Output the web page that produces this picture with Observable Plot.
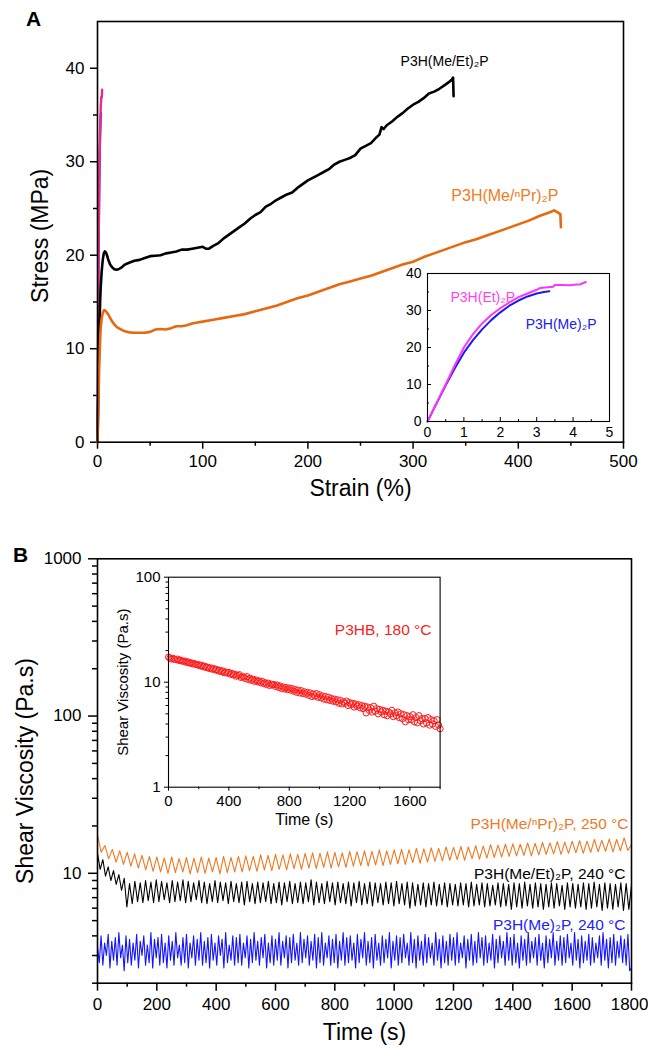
<!DOCTYPE html>
<html><head><meta charset="utf-8">
<script src="https://cdn.jsdelivr.net/npm/d3@7"></script>
<script src="https://cdn.jsdelivr.net/npm/@observablehq/plot@0.6"></script>
<style>
body{margin:0;background:#fff;}
#wrap{position:relative;width:648px;height:1045px;overflow:hidden;background:#fff;}
#wrap svg{position:absolute;overflow:visible;}
</style></head><body><div id="wrap"></div>
<script>
// ---------------- Panel A : stress-strain ----------------
const strainTicks = [0, 100, 200, 300, 400, 500];
const strainMinor = [50, 150, 250, 350, 450];
const stressTicks = [0, 10, 20, 30, 40];
const stressMinor = [5, 15, 25, 35];

const meEtStrain = [0,0.5,1,1.5,2,2.5,3,4,5,6,7,8,9,10,12,14,16,18,20,23,26,30,35,40,45,50,55,60,65,70,75,80,85,90,95,100,103,106,110,115,120,125,130,135,140,145,150,155,160,165,170,175,180,185,190,195,200,205,210,215,220,225,230,235,240,245,250,255,260,265,268,270,272,275,280,285,290,295,300,305,310,315,320,325,330,335,337,338,338.5];
const meEtStress = [0,3,7,10.5,13,15,16.5,18.3,19.5,20.2,20.4,20.3,20.0,19.6,19.0,18.7,18.5,18.45,18.5,18.7,19.0,19.2,19.4,19.5,19.7,19.9,19.95,20.0,20.2,20.3,20.4,20.6,20.6,20.7,20.8,20.9,20.7,20.7,21.0,21.3,21.8,22.2,22.6,23.0,23.4,23.9,24.3,24.6,25.2,25.5,25.9,26.2,26.5,26.7,27.2,27.6,28.0,28.3,28.6,28.9,29.2,29.7,30.0,30.2,30.4,30.7,31.4,31.7,32.0,32.6,32.9,33.7,33.5,33.9,34.3,34.8,35.2,35.7,36.1,36.4,36.8,37.3,37.5,37.8,38.2,38.6,38.8,39.0,37.0];

const meNPrStrain = [0,0.5,1,1.5,2,2.5,3,4,5,6,7,8,10,12,14,16,18,20,25,30,35,40,45,50,55,60,65,70,75,80,85,90,95,100,110,120,130,140,150,160,170,180,190,200,210,220,230,240,250,260,270,280,290,300,310,320,330,340,350,360,370,380,390,400,410,420,430,434,437,440,440.5];
const meNPrStress = [0,2.5,5,7.5,9.5,11,12.2,13.3,13.8,14.1,14.1,14.0,13.7,13.3,12.9,12.6,12.35,12.2,11.9,11.75,11.7,11.7,11.7,11.8,12.05,12.1,12.05,12.2,12.4,12.4,12.5,12.7,12.8,12.9,13.1,13.3,13.5,13.7,14.0,14.3,14.6,15.0,15.4,15.7,16.1,16.5,16.9,17.2,17.5,17.8,18.2,18.6,19.0,19.3,19.8,20.2,20.6,21.0,21.4,21.7,22.1,22.5,22.9,23.3,23.7,24.2,24.6,24.8,24.6,24.4,23.0];

const etStrain = [0,0.25,0.5,0.75,1.0,1.25,1.5,1.75,2.0,2.25,2.5,2.75,3.0,3.1,3.3,3.45,3.5,3.7,3.9,4.1,4.2,4.3,4.35];
const etStress = [0,5.0,10.0,15.2,20.0,23.6,26.5,28.8,30.6,32.2,33.6,34.6,35.6,36.1,36.3,36.4,36.9,36.9,36.8,37.0,37.1,37.5,37.7];
const meStrain = [0,0.25,0.5,0.75,1.0,1.25,1.5,1.75,2.0,2.25,2.5,2.75,3.0,3.2,3.35];
const meStress = [0,4.9,9.8,14.4,18.6,22.0,24.9,27.4,29.5,31.3,32.7,33.8,34.6,35.0,35.2];

const insetStrainTicks = [0, 1, 2, 3, 4, 5];
const insetStrainMinor = [0.5, 1.5, 2.5, 3.5, 4.5];
const insetStressTicks = [0, 10, 20, 30, 40];
const insetStressMinor = [5, 15, 25, 35];

// ---------------- Panel B : shear viscosity ----------------
const timeTicks = [0, 200, 400, 600, 800, 1000, 1200, 1400, 1600];
const timeLastTick = [1800];
const timeMinor = [100, 300, 500, 700, 900, 1100, 1300, 1500, 1700];
const viscTicks = [10, 100, 1000];
const viscMinor = [2,3,4,5,6,7,8,9,20,30,40,50,60,70,80,90,200,300,400,500,600,700,800,900];
const runDuration = 1800; // s, each run sampled evenly

const meNPrVisc = [17.5,13.6,15.0,12.4,14.2,11.8,13.9,11.4,13.6,11.1,13.3,10.8,13.0,10.5,12.8,10.3,12.7,10.2,12.5,10.0,12.7,10.1,12.4,10.2,12.6,9.9,12.5,10.1,12.7,10.0,12.5,10.2,12.6,9.9,12.8,10.1,12.6,10.2,12.8,10.2,
12.9,10.4,12.8,10.3,13.1,10.5,13.0,10.4,13.2,10.6,13.1,10.5,13.3,10.7,13.2,10.6,13.4,10.8,13.5,10.7,13.4,10.9,13.7,10.8,13.6,11.0,13.5,10.9,13.8,11.1,13.7,11.2,13.9,11.1,13.8,11.3,14.1,11.2,13.9,11.4,
14.1,11.5,14.2,11.4,14.1,11.7,14.4,11.6,14.3,11.8,14.5,11.9,14.4,12.0,14.7,12.1,14.6,12.2,14.8,12.1,14.7,12.4,15.0,12.3,14.9,12.5,15.2,12.6,15.1,12.7,15.3,12.8,15.4,12.9,15.3,13.0,15.6,12.9,15.5,13.1,
15.7,13.2,15.6,13.3,15.9,13.2,15.8,13.4,16.0,13.5,16.1,13.4,16.0,13.6,16.4,13.7,16.2,13.8,16.5,13.7,16.4,13.9,16.8,14.0,15.2];

const meEtVisc = [13.4,10.6,12.2,9.6,11.0,9.0,10.4,8.5,9.8,7.8,9.3,6.1,
8.6,6.4,8.9,6.6,8.7,6.5,9.0,6.7,8.8,6.5,9.1,6.6,8.9,6.8,8.7,6.5,9.0,6.6,8.8,6.7,9.1,6.5,8.9,6.6,8.7,6.8,9.0,6.5,
8.8,6.4,8.6,6.6,9.0,6.5,8.8,6.7,8.7,6.4,8.9,6.6,8.6,6.5,8.8,6.3,8.9,6.6,8.6,6.4,
8.8,6.5,8.7,6.6,8.9,6.4,8.6,6.5,8.8,6.3,8.7,6.6,8.9,6.4,8.6,6.5,8.8,6.4,8.7,6.6,
9.1,6.3,8.8,6.5,8.6,6.4,8.9,6.6,8.7,6.3,8.8,6.5,8.6,6.4,8.8,6.2,8.7,6.5,8.9,6.3,
8.6,6.4,8.8,6.2,8.7,6.5,8.6,6.3,8.8,6.4,8.7,6.2,8.9,6.4,8.6,6.3,8.8,6.0,8.7,6.2,
8.5,6.3,8.7,6.1,8.6,6.3,8.8,6.2,8.5,6.3,8.7,6.1,8.6,6.3,8.5,6.2,8.7,6.3,8.6,6.1,
8.8,6.2,8.5,6.3,8.7,6.1,8.6,6.2,8.4,6.3,8.7,6.1,8.6,6.2,8.5,5.9,8.7,6.1,8.6,6.0,
8.8,6.2,8.5,6.0,8.7,6.1,8.6,5.9,8.5,6.1,8.7,6.0,8.6,6.2,8.4,5.9,8.7,6.1,8.6,6.0,
8.5,6.1,8.7,5.9,8.6,6.0,8.8,6.1,8.5,5.8,8.7,6.0,8.6,5.9,8.5,6.1,8.7,5.8,8.6,5.9,
8.4];

const meVisc = [3.4,2.7,4.0,2.6,3.6,3.0,4.1,2.5,3.7,2.8,3.9,2.6,4.2,2.9,3.5,2.4,4.0,2.7,3.8,2.6,
3.6,2.8,4.1,2.5,3.7,3.0,4.0,2.6,3.5,2.7,4.2,2.5,3.8,2.9,3.9,2.6,4.1,2.7,3.6,2.5,
4.0,2.8,3.7,2.6,4.2,2.9,3.5,2.6,3.9,2.7,4.1,2.5,3.6,2.9,4.0,2.6,3.8,2.8,4.2,2.6,
3.7,2.7,3.9,2.5,4.1,2.8,3.6,2.6,4.0,3.0,3.8,2.5,4.2,2.7,3.5,2.8,4.0,2.6,3.9,2.7,
4.1,2.6,3.6,2.9,4.0,2.5,3.8,2.7,4.2,2.8,3.7,2.6,3.9,2.9,4.1,2.5,3.6,2.7,4.0,2.6,
3.8,2.8,4.2,2.6,3.7,2.9,4.0,2.5,3.9,2.7,4.1,2.8,3.6,2.6,4.2,2.7,3.8,2.9,4.0,2.6,
3.7,2.8,4.1,2.5,3.9,2.7,4.2,2.6,3.6,2.9,4.0,2.6,3.8,2.7,4.1,2.5,3.7,2.8,4.2,2.6,
3.9,2.7,4.0,2.8,3.6,2.5,4.1,2.7,3.8,2.9,4.2,2.6,3.7,2.7,3.9,2.5,4.1,2.8,3.6,2.6,
4.0,2.7,3.8,2.9,4.2,2.5,3.7,2.8,4.0,2.6,3.9,2.7,4.1,2.9,3.6,2.6,4.2,2.7,3.8,2.5,
4.0,2.8,3.7,2.6,4.1,2.7,3.9,2.9,3.6,2.6,4.2,2.8,3.8,2.5,4.0,2.7,3.7,2.6,4.1,2.8,
3.9,2.6,4.2,2.7,3.6,2.9,4.0,2.5,3.8,2.8,4.1,2.6,3.7,2.7,4.2,2.9,3.9,2.6,4.0,2.7,
3.6,2.8,4.1,2.5,3.8,2.7,4.0,2.9,3.7,2.6,4.2,2.8,3.9,2.6,4.1,2.7,3.6,2.5,4.0,2.8,
3.8,2.6,4.2,2.7,3.7,2.9,3.9,2.6,4.1,2.8,3.6,2.5,4.0,2.7,3.8,2.9,4.2,2.6,3.7,2.8,
4.0,2.6,3.9,2.7,4.1,2.9,3.6,2.6,4.2,2.8,3.8,2.5,4.0,2.7,3.7,2.8,4.1,2.6,3.9,2.7,
3.6,2.9,4.0,2.6,4.2,2.8,3.8,2.5,3.9,2.7,4.1,2.6,3.7,2.9,4.0,2.7,3.8,2.6,4.1,2.4,
2.5];

const p3hbVisc = [17.3,17.0,16.6,16.9,16.5,16.4,16.6,16.1,16.2,15.9,
15.8,15.9,15.4,15.6,15.2,15.3,14.9,15.1,14.8,14.6,
14.7,14.3,14.5,14.0,14.2,13.8,13.9,13.5,13.7,13.3,
13.5,13.1,13.2,12.8,13.0,12.6,12.8,12.3,12.5,12.2,
12.4,11.9,12.1,11.7,11.9,11.4,11.6,11.8,11.1,11.3,
11.2,10.8,11.3,10.6,10.9,10.4,10.7,10.2,10.5,10.1,
10.3,9.9,10.2,9.7,9.9,9.5,9.8,9.3,9.6,9.4,
9.5,9.1,9.4,8.9,9.2,8.7,9.0,8.6,8.9,8.5,
8.8,8.4,8.7,8.2,8.5,8.0,8.4,7.9,8.3,7.8,
8.1,7.7,8.0,7.5,7.9,7.3,7.7,7.4,7.8,7.2,
7.6,7.1,7.4,6.9,7.3,6.8,7.2,6.7,7.0,6.6,
6.9,6.5,6.8,6.3,6.7,6.2,6.5,6.3,6.6,6.0,
6.4,6.1,6.3,5.8,6.2,5.9,6.1,5.7,6.0,5.6,
5.9,5.1,5.8,5.4,5.7,5.2,5.9,5.3,5.6,5.0,
5.5,5.2,5.4,4.9,5.3,4.8,5.2,5.0,5.4,4.7,
5.1,4.8,5.2,4.6,5.0,4.5,4.9,4.2,4.8,4.4,
4.7,4.4,4.9,4.2,4.6,4.1,4.8,4.3,4.5,4.0,
4.5,4.1,4.6,3.9,4.4,4.0,4.3,3.8,4.4,3.9,
3.6];

const insetTimeTicks = [0, 400, 800, 1200, 1600];
const insetTimeMinor = [200, 600, 1000, 1400, 1800];
const insetViscTicks = [1, 10, 100];
const insetViscMinor = [2,3,4,5,6,7,8,9,20,30,40,50,60,70,80,90];

// ---------------- helpers ----------------
const FONT = "'Liberation Sans', Arial, Helvetica, sans-serif";
const pairs = (xs, ys) => xs.map((x, i) => ({x, y: ys[i]}));
const evenly = (ys, duration) => ys.map((y, i) => ({x: i * duration / (ys.length - 1), y}));
const blank = () => "";
const wrap = document.getElementById("wrap");
function place(svg, left, top) {
  svg.style.left = left + "px";
  svg.style.top = top + "px";
  wrap.appendChild(svg);
}
const baseStyle = {fontFamily: FONT, color: "#000", background: "transparent", overflow: "visible"};

// ---------------- Panel A main ----------------
const plotA = Plot.plot({
  width: 648, height: 520,
  marginLeft: 97, marginRight: 25, marginTop: 21, marginBottom: 78.3,
  style: baseStyle,
  x: {domain: [0, 500]},
  y: {domain: [0, 45]},
  marks: [
    Plot.axisX(strainTicks, {tickSize: 7, tickPadding: 6, strokeWidth: 1.5, fontSize: 17, label: null, tickFormat: d => String(d)}),
    Plot.axisX(strainMinor, {tickSize: 4, strokeWidth: 1.5, label: null, tickFormat: blank}),
    Plot.axisY(stressTicks, {tickSize: 7, tickPadding: 6, strokeWidth: 1.5, fontSize: 17, label: null, tickFormat: d => String(d)}),
    Plot.axisY(stressMinor, {tickSize: 4, strokeWidth: 1.5, label: null, tickFormat: blank}),
    Plot.line(pairs(meStrain, meStress), {x: "x", y: "y", stroke: "#1a1aff", strokeWidth: 2.2}),
    Plot.line(pairs(etStrain, etStress), {x: "x", y: "y", stroke: "#f0288c", strokeWidth: 2.4}),
    Plot.line(pairs(meEtStrain, meEtStress), {x: "x", y: "y", stroke: "#000", strokeWidth: 2.6}),
    Plot.line(pairs(meNPrStrain, meNPrStress), {x: "x", y: "y", stroke: "#e8680e", strokeWidth: 2.6}),
    Plot.frame({stroke: "#000", strokeWidth: 1.6}),
    Plot.text(["P3H(Me/Et)₂P"], {text: d => d, frameAnchor: "top-right", textAnchor: "end", lineAnchor: "middle", dx: -135, dy: 40, fontSize: 14, fill: "#000"}),
    Plot.text(["P3H(Me/ⁿPr)₂P"], {text: d => d, frameAnchor: "top-right", textAnchor: "end", lineAnchor: "middle", dx: -65, dy: 174, fontSize: 16, fill: "#f07c24"}),
    Plot.text(["Strain (%)"], {text: d => d, frameAnchor: "bottom", textAnchor: "middle", lineAnchor: "middle", dy: 46, fontSize: 23, fill: "#000"}),
    Plot.text(["Stress (MPa)"], {text: d => d, frameAnchor: "left", textAnchor: "middle", lineAnchor: "middle", rotate: -90, dx: -57, dy: 4, fontSize: 23, fill: "#000"}),
    Plot.text(["A"], {text: d => d, frameAnchor: "top-left", textAnchor: "middle", lineAnchor: "middle", dx: -64, dy: -2, fontSize: 21, fontWeight: "bold", fill: "#000"})
  ]
});
place(plotA, 0, 0);

// ---------------- Panel A inset ----------------
const insetA = Plot.plot({
  width: 220, height: 182,
  marginLeft: 27, marginRight: 11, marginTop: 11, marginBottom: 23,
  style: baseStyle,
  x: {domain: [0, 5]},
  y: {domain: [0, 40]},
  marks: [
    Plot.axisX(insetStrainTicks, {tickSize: -4, tickPadding: 10, strokeWidth: 1, fontSize: 14, label: null, tickFormat: d => String(d)}),
    Plot.axisX(insetStrainMinor, {tickSize: -2, strokeWidth: 1, label: null, tickFormat: blank}),
    Plot.axisY(insetStressTicks, {tickSize: -4, tickPadding: 10, strokeWidth: 1, fontSize: 14, label: null, tickFormat: d => String(d)}),
    Plot.axisY(insetStressMinor, {tickSize: -2, strokeWidth: 1, label: null, tickFormat: blank}),
    Plot.line(pairs(meStrain, meStress), {x: "x", y: "y", stroke: "#1a1aee", strokeWidth: 2}),
    Plot.line(pairs(etStrain, etStress), {x: "x", y: "y", stroke: "#ff33ff", strokeWidth: 2}),
    Plot.frame({stroke: "#000", strokeWidth: 1.1}),
    Plot.text(["P3H(Et)₂P"], {text: d => d, frameAnchor: "top-left", textAnchor: "start", lineAnchor: "middle", dx: 23, dy: 24, fontSize: 14, fill: "#ff44ee"}),
    Plot.text(["P3H(Me)₂P"], {text: d => d, frameAnchor: "top-right", textAnchor: "end", lineAnchor: "middle", dx: -13, dy: 51, fontSize: 14, fill: "#2020ee"})
  ]
});
place(insetA, 400, 262);

// ---------------- Panel B main ----------------
const intFmt = d => String(d);
const plotB = Plot.plot({
  width: 648, height: 525,
  marginLeft: 97, marginRight: 17, marginTop: 38.3, marginBottom: 62.3,
  style: baseStyle,
  x: {domain: [0, 1800]},
  y: {type: "log", domain: [2, 1000]},
  marks: [
    Plot.axisX(timeTicks, {tickSize: 8, tickPadding: 7, strokeWidth: 1.5, fontSize: 17, label: null, tickFormat: intFmt}),
    Plot.axisX(timeLastTick, {tickSize: 8, strokeWidth: 1.5, label: null, tickFormat: blank}),
    Plot.axisX(timeLastTick, {tickSize: 0, tickPadding: 15, fontSize: 17, label: null, tickFormat: intFmt, textAnchor: "end", dx: 17}),
    Plot.axisX(timeMinor, {tickSize: 4, strokeWidth: 1.5, label: null, tickFormat: blank}),
    Plot.axisY(viscTicks, {tickSize: 9, tickPadding: 7, strokeWidth: 1.5, fontSize: 17, label: null, tickFormat: intFmt}),
    Plot.axisY(viscMinor, {tickSize: 5, strokeWidth: 1.5, label: null, tickFormat: blank}),
    Plot.line(evenly(meVisc, runDuration), {x: "x", y: "y", stroke: "#1414ff", strokeWidth: 1.1}),
    Plot.line(evenly(meEtVisc, runDuration), {x: "x", y: "y", stroke: "#000", strokeWidth: 1.1}),
    Plot.line(evenly(meNPrVisc, runDuration), {x: "x", y: "y", stroke: "#f07820", strokeWidth: 1.1}),
    Plot.frame({stroke: "#000", strokeWidth: 1.6}),
    Plot.text(["P3H(Me/ⁿPr)₂P, 250 °C"], {text: d => d, frameAnchor: "top-right", textAnchor: "end", lineAnchor: "middle", dx: -3, dy: 265, fontSize: 15.5, fill: "#ee7a26"}),
    Plot.text(["P3H(Me/Et)₂P, 240 °C"], {text: d => d, frameAnchor: "top-right", textAnchor: "end", lineAnchor: "middle", dx: -6, dy: 315, fontSize: 15.5, fill: "#000"}),
    Plot.text(["P3H(Me)₂P, 240 °C"], {text: d => d, frameAnchor: "top-right", textAnchor: "end", lineAnchor: "middle", dx: -6, dy: 366, fontSize: 15.5, fill: "#2222ff"}),
    Plot.text(["Time (s)"], {text: d => d, frameAnchor: "bottom", textAnchor: "middle", lineAnchor: "middle", dy: 49, fontSize: 23, fill: "#000"}),
    Plot.text(["Shear Viscosity (Pa.s)"], {text: d => d, frameAnchor: "left", textAnchor: "middle", lineAnchor: "middle", rotate: -90, dx: -72, dy: 0, fontSize: 23, fill: "#000"}),
    Plot.text(["B"], {text: d => d, frameAnchor: "top-left", textAnchor: "middle", lineAnchor: "middle", dx: -77, dy: -4, fontSize: 21, fontWeight: "bold", fill: "#000"})
  ]
});
place(plotB, 0, 520);

// ---------------- Panel B inset ----------------
const insetB = Plot.plot({
  width: 350, height: 265,
  marginLeft: 68, marginRight: 10.4, marginTop: 11.7, marginBottom: 43.3,
  style: baseStyle,
  x: {domain: [0, 1800]},
  y: {type: "log", domain: [1, 100]},
  marks: [
    Plot.axisX(insetTimeTicks, {tickSize: 4, tickPadding: 4, strokeWidth: 1, fontSize: 15, label: null, tickFormat: intFmt}),
    Plot.axisX(insetTimeMinor, {tickSize: 2.5, strokeWidth: 1, label: null, tickFormat: blank}),
    Plot.axisY(insetViscTicks, {tickSize: 4, tickPadding: 4, strokeWidth: 1, fontSize: 15, label: null, tickFormat: intFmt}),
    Plot.axisY(insetViscMinor, {tickSize: 2.5, strokeWidth: 1, label: null, tickFormat: blank}),
    Plot.dot(evenly(p3hbVisc, runDuration), {x: "x", y: "y", r: 3.1, stroke: "#ff1a1a", fill: "none", strokeWidth: 1}),
    Plot.frame({stroke: "#000", strokeWidth: 1.1}),
    Plot.text(["P3HB, 180 °C"], {text: d => d, frameAnchor: "top-right", textAnchor: "end", lineAnchor: "middle", dx: -8.6, dy: 53.3, fontSize: 15.5, fill: "#ff1a1a"}),
    Plot.text(["Time (s)"], {text: d => d, frameAnchor: "bottom", textAnchor: "middle", lineAnchor: "middle", dy: 33, fontSize: 16, fill: "#000"}),
    Plot.text(["Shear Viscosity (Pa.s)"], {text: d => d, frameAnchor: "left", textAnchor: "middle", lineAnchor: "middle", rotate: -90, dx: -45, dy: 0, fontSize: 15, fill: "#000"})
  ]
});
place(insetB, 100, 565);
</script></body></html>
